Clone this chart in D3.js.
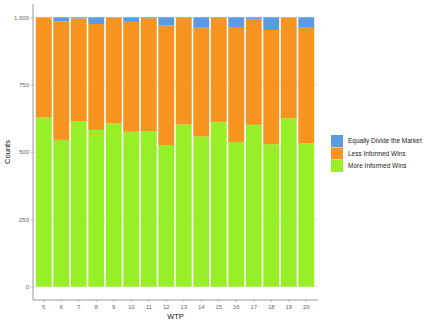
<!DOCTYPE html>
<html>
<head>
<meta charset="utf-8">
<script src="https://cdn.jsdelivr.net/npm/d3@7"></script>
<style>
  body { margin: 0; background: #fff; }
  text { font-family: "Liberation Sans", Arial, sans-serif; }
</style>
</head>
<body>
<div id="chart"></div>
<script>
// data
const wtp = [5, 6, 7, 8, 9, 10, 11, 12, 13, 14, 15, 16, 17, 18, 19, 20];
const moreInformed = [628, 545, 615, 582, 606, 575, 578, 526, 602, 558, 612, 537, 601, 529, 625, 533];
const equallyDivide = [0, 15, 4, 25, 1, 17, 3, 31, 2, 39, 2, 36, 6, 47, 1, 36];
const lessInformed = wtp.map((d, i) => 1000 - moreInformed[i] - equallyDivide[i]);
const yTicks = [0, 250, 500, 750, 1000];

const seriesNames = ['More Informed Wins', 'Less Informed Wins', 'Equally Divide the Market'];
const seriesColors = ['#97ef28', '#f7931f', '#5b9be3'];

const width = 432, height = 324;
const panel = { left: 33, right: 318, top: 4, bottom: 300 };

const svg = d3.select('#chart').append('svg')
    .attr('width', width)
    .attr('height', height);

const rows = wtp.map((w, i) => ({
    wtp: w,
    'More Informed Wins': moreInformed[i],
    'Less Informed Wins': lessInformed[i],
    'Equally Divide the Market': equallyDivide[i]
}));

const stack = d3.stack().keys(seriesNames)(rows);

// Scales
const x = d3.scaleBand()
    .domain(wtp)
    .range([35, 315])
    .padding(0);

const y = d3.scaleLinear()
    .domain([0, 1000])
    .range([286.7, 17.3]);

const color = d3.scaleOrdinal().domain(seriesNames).range(seriesColors);

// Grid
svg.append('g')
    .selectAll('line')
    .data(yTicks)
    .join('line')
    .attr('x1', panel.left)
    .attr('x2', panel.right)
    .attr('y1', d => y(d))
    .attr('y2', d => y(d))
    .attr('stroke', '#dedede')
    .attr('stroke-width', 0.8);

// Bars
svg.append('g')
    .selectAll('g')
    .data(stack)
    .join('g')
    .attr('fill', d => color(d.key))
    .selectAll('rect')
    .data(d => d)
    .join('rect')
    .attr('x', d => x(d.data.wtp) + 0.8)
    .attr('width', x.bandwidth() - 1.6)
    .attr('y', d => y(d[1]))
    .attr('height', d => y(d[0]) - y(d[1]));

// Axes
const yAxis = svg.append('g')
    .attr('transform', `translate(${panel.left},0)`)
    .call(d3.axisLeft(y).tickValues(yTicks).tickSize(2).tickPadding(2));

const xAxis = svg.append('g')
    .attr('transform', `translate(0,${panel.bottom})`)
    .call(d3.axisBottom(x).tickSize(2).tickPadding(2.5));

[xAxis, yAxis].forEach(a => {
    a.select('.domain').remove();
    a.selectAll('.tick line').attr('stroke', '#bbb');
    a.selectAll('.tick text').attr('fill', '#666').style('font-size', '6px');
});

svg.append('line')
    .attr('x1', panel.left).attr('x2', panel.left)
    .attr('y1', panel.top).attr('y2', panel.bottom)
    .attr('stroke', '#999');
svg.append('line')
    .attr('x1', panel.left).attr('x2', panel.right)
    .attr('y1', panel.bottom).attr('y2', panel.bottom)
    .attr('stroke', '#999');

// Axis titles
svg.append('text')
    .attr('x', (panel.left + panel.right) / 2)
    .attr('y', 319)
    .style('text-anchor', 'middle')
    .style('font-size', '7.5px')
    .attr('fill', '#111')
    .text('WTP');

svg.append('text')
    .attr('transform', 'rotate(-90)')
    .attr('x', -(panel.top + panel.bottom) / 2)
    .attr('y', 10)
    .style('text-anchor', 'middle')
    .style('font-size', '7.5px')
    .attr('fill', '#111')
    .text('Counts');

// Legend
const legendNames = seriesNames.slice().reverse();
const legend = svg.append('g')
    .attr('transform', 'translate(331,135)');

legend.selectAll('rect')
    .data(legendNames)
    .join('rect')
    .attr('x', 0)
    .attr('y', (d, i) => i * 12.5)
    .attr('width', 12)
    .attr('height', 12)
    .attr('fill', d => color(d));

legend.selectAll('text')
    .data(legendNames)
    .join('text')
    .attr('x', 17)
    .attr('y', (d, i) => i * 12.5 + 6)
    .attr('dy', '0.35em')
    .style('font-size', '6.5px')
    .attr('fill', '#222')
    .text(d => d);
</script>
</body>
</html>
